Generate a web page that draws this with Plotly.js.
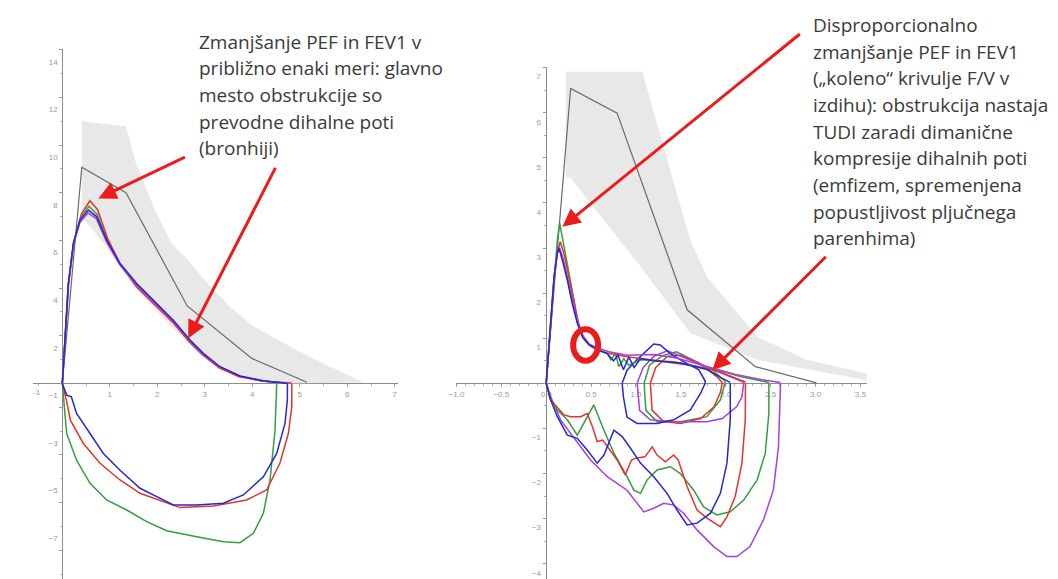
<!DOCTYPE html>
<html><head><meta charset="utf-8">
<script src="https://cdn.plot.ly/plotly-3.0.1.min.js"></script>
<style>html,body{margin:0;padding:0;background:#fff}#chart{width:1058px;height:579px}</style>
</head><body><div id="chart"></div>
<script>
// ---------- LEFT panel (volume L, flow L/s) ----------
const lBandUpV = [0.41, 1.34, 1.53, 1.95, 2.30, 2.65, 2.93, 3.53, 3.99, 4.93, 5.64, 6.34];
const lBandUpF = [11.0, 10.79, 9.36, 7.27, 5.87, 5.17, 4.47, 3.21, 2.44, 1.40, 0.70, 0.04];
const lBandLoV = [4.6, 4.1, 3.4, 2.9, 2.2, 1.5, 0.9, 0.41];
const lBandLoF = [0, 0.1, 0.6, 1.2, 2.6, 4.1, 5.8, 7.0];
const lPredV = [0, 0.41, 1.34, 2.63, 3.99, 5.15];
const lPredF = [0, 9.07, 8.0, 3.25, 1.05, 0.05];

const lBlueExpV = [0,0.057,0.127,0.232,0.373,0.548,0.724,0.934,1.215,1.566,1.987,2.337,2.688,2.969,3.32,3.741,4.232,4.724,4.74];
const lBlueExpF = [0,2.10,4.19,5.87,6.85,7.27,6.99,6.01,5.03,4.19,3.35,2.65,1.82,1.26,0.70,0.31,0.11,0.03,0];
const lPurpleExpV = [0,0.055,0.125,0.23,0.37,0.54,0.72,0.93,1.21,1.56,1.98,2.33,2.68,2.96,3.31,3.73,4.22,4.70];
const lPurpleExpF = [0,2.05,4.1,5.8,6.75,7.15,6.9,5.95,4.98,4.15,3.3,2.62,1.8,1.24,0.69,0.3,0.1,0.02];
const lRedExpV = [0,0.06,0.13,0.24,0.40,0.58,0.74,0.95,1.22,1.56,1.98,2.33,2.67,2.95,3.30,3.72,4.25,4.83];
const lRedExpF = [0,2.0,4.1,5.9,7.1,7.66,7.3,6.1,5.0,4.05,3.22,2.55,1.75,1.2,0.65,0.28,0.09,0.02];
const lGreenExpV = [0,0.055,0.125,0.235,0.38,0.56,0.73,0.94,1.22,1.57,1.99,2.34,2.69,2.97,3.32,3.74,4.2,4.51];
const lGreenExpF = [0,2.05,4.15,5.9,6.95,7.43,7.1,6.05,5.0,4.12,3.28,2.6,1.78,1.22,0.68,0.3,0.1,0.03];

const lBlueInsV = [0,0.092,0.19,0.30,0.583,0.864,1.215,1.636,1.987,2.337,2.829,3.39,3.811,4.232,4.513,4.688,4.737,4.74];
const lBlueInsF = [0,-0.49,-0.56,-1.26,-2.10,-2.94,-3.64,-4.40,-4.75,-5.10,-5.10,-5.03,-4.68,-3.92,-2.94,-1.68,-0.70,0];
const lRedInsV = [0,0.085,0.17,0.443,0.794,1.215,1.636,2.127,2.478,3.18,3.88,4.30,4.58,4.758,4.83,4.83];
const lRedInsF = [0,-0.70,-1.54,-2.52,-3.35,-4.05,-4.61,-4.96,-5.21,-5.14,-4.89,-4.47,-3.35,-2.10,-0.98,0];
const lGreenInsV = [0,0.042,0.092,0.30,0.583,0.934,1.355,1.776,2.197,2.829,3.39,3.74,4.022,4.232,4.373,4.478,4.513];
const lGreenInsF = [0,-0.98,-2.10,-3.22,-4.19,-4.89,-5.31,-5.80,-6.18,-6.43,-6.64,-6.68,-6.29,-5.45,-4.05,-1.96,0];

const lXTicks = [1,2,3,4,5,6,7];
const lYTicksPos = [2,4,6,8,10,12,14];
const lYTicksNeg = [-1,-3,-5,-7];

// ---------- RIGHT panel ----------
const rBandUpV = [0.217, 1.07, 1.38, 1.605, 1.79, 2.35, 2.9, 3.57];
const rBandUpF = [6.91, 6.91, 4.73, 3.18, 2.36, 1.03, 0.52, 0.22];
const rBandLoV = [3.57, 2.35, 1.605, 1.05, 0.272, 0.217];
const rBandLoF = [0.07, 0.52, 1.11, 2.59, 4.55, 4.58];
const rPredV = [0, 0.272, 0.79, 1.57, 2.33, 3.01];
const rPredF = [0, 6.54, 5.99, 1.63, 0.37, 0.01];

const rBlueExpV = [0,0.05,0.087,0.124,0.143,0.18,0.235,0.29,0.346,0.402,0.476,0.57,0.68,0.75,0.8,0.86,0.92,0.98,1.05,1.2,1.5,1.8,1.95,2.05];
const rBlueExpF = [0,1.26,2.36,2.88,2.99,2.73,2.29,1.77,1.33,1.03,0.85,0.74,0.66,0.5,0.62,0.3,0.58,0.35,0.55,0.5,0.45,0.3,0.12,0.02];
const rGreenExpV = [0,0.05,0.09,0.125,0.15,0.2,0.255,0.31,0.36,0.42,0.5,0.6,0.68,0.72,0.77,0.81,0.865,0.92,1.05,1.42,1.79,1.97,2.16,2.38,2.48];
const rGreenExpF = [0,1.3,2.5,3.2,3.55,3.03,2.44,1.85,1.3,0.98,0.82,0.72,0.66,0.52,0.66,0.37,0.55,0.4,0.52,0.48,0.33,0.26,0.15,0.06,0.02];
const rRedExpV = [0,0.05,0.09,0.125,0.157,0.2,0.25,0.3,0.35,0.41,0.48,0.58,0.68,0.9,1.24,1.6,1.9,2.1,2.22];
const rRedExpF = [0,1.28,2.4,2.95,3.14,2.85,2.4,1.9,1.4,1.05,0.86,0.75,0.67,0.59,0.5,0.4,0.28,0.12,0.03];
const rPurpleExpV = [0,0.05,0.088,0.124,0.145,0.19,0.24,0.3,0.35,0.41,0.48,0.58,0.7,0.9,1.2,1.45,1.8,2.1,2.4,2.61];
const rPurpleExpF = [0,1.25,2.35,2.9,3.03,2.75,2.3,1.8,1.35,1.04,0.87,0.78,0.7,0.62,0.64,0.56,0.36,0.2,0.08,0.02];

const rPurpleInsV = [0,0.05,0.16,0.31,0.494,0.68,0.90,1.087,1.198,1.309,1.42,1.53,1.68,1.865,2.013,2.124,2.27,2.42,2.53,2.587,2.606,2.61];
const rPurpleInsF = [0,-0.30,-0.81,-1.22,-1.70,-2.07,-2.37,-2.85,-2.77,-2.66,-2.70,-2.88,-3.25,-3.62,-3.84,-3.84,-3.62,-3.03,-2.37,-1.41,-0.52,0];
const rBlueInsV = [0,0.05,0.124,0.235,0.346,0.457,0.568,0.643,0.754,0.846,0.939,1.05,1.198,1.346,1.457,1.569,1.68,1.83,1.94,2.013,2.05,2.05];
const rBlueInsF = [0,-0.37,-0.74,-1.15,-1.22,-1.48,-1.77,-1.59,-1.04,-1.18,-1.44,-1.77,-2.07,-2.44,-2.81,-3.14,-3.10,-2.88,-2.44,-1.77,-0.81,0];
const rRedInsV = [0,0.05,0.198,0.272,0.383,0.457,0.514,0.568,0.63,0.79,0.88,0.95,1.0,1.1,1.18,1.235,1.327,1.42,1.47,1.569,1.68,1.79,1.94,2.013,2.105,2.18,2.217,2.22];
const rRedInsF = [0,-0.37,-0.70,-0.74,-0.74,-0.67,-0.96,-1.29,-1.26,-1.70,-2.03,-1.70,-1.66,-1.63,-1.41,-1.59,-1.74,-1.59,-1.70,-2.29,-2.81,-2.99,-3.18,-2.96,-2.51,-1.77,-0.81,0];
const rGreenInsV = [0,0.05,0.124,0.235,0.346,0.42,0.53,0.643,0.754,0.90,0.976,1.05,1.124,1.235,1.383,1.494,1.643,1.754,1.90,2.05,2.20,2.35,2.44,2.48,2.48];
const rGreenInsF = [0,-0.37,-0.59,-0.81,-1.15,-0.89,-0.48,-1.04,-1.55,-2.07,-2.37,-2.44,-2.14,-1.92,-1.85,-2.0,-2.37,-2.74,-2.92,-2.85,-2.59,-2.14,-1.55,-0.67,0];

// tidal loops: expiration then inspiration back
const rBlueTidV = [0.846,0.9,1.01,1.124,1.198,1.27,1.383,1.53,1.7,1.77,1.77,1.72,1.606,1.42,1.235,1.013,0.9,0.86,0.846];
const rBlueTidF = [0,0.29,0.52,0.74,0.87,0.85,0.66,0.48,0.3,0.05,0,-0.22,-0.59,-0.81,-0.89,-0.89,-0.75,-0.3,0];
const rPurpleTidV = [1.013,1.08,1.2,1.35,1.5,1.8,2.0,2.2,2.2,2.18,2.12,1.96,1.79,1.42,1.16,1.04,1.013];
const rPurpleTidF = [0,0.35,0.6,0.72,0.6,0.35,0.18,0.02,0,-0.3,-0.52,-0.78,-0.85,-0.85,-0.81,-0.6,0];
const rGreenTidV = [1.09,1.15,1.3,1.45,1.6,1.85,1.99,1.99,1.94,1.79,1.494,1.235,1.11,1.09];
const rGreenTidF = [0,0.4,0.62,0.7,0.55,0.3,0.05,0,-0.37,-0.74,-0.85,-0.85,-0.6,0];
const rRedTidV = [1.16,1.22,1.35,1.5,1.7,1.9,1.96,1.96,1.94,1.87,1.72,1.494,1.309,1.18,1.16];
const rRedTidF = [0,0.35,0.6,0.62,0.45,0.15,0.02,0,-0.2,-0.52,-0.78,-0.89,-0.85,-0.6,0];

const rXTicks = [-1,-0.5,0,0.5,1,1.5,2,2.5,3,3.5];
const rYTicks = [-4,-3,-2,-1,1,2,3,4,5,6,7];

const leftText = ["Zmanjšanje PEF in FEV1 v","približno enaki meri: glavno","mesto obstrukcije so","prevodne dihalne poti","(bronhiji)"];
const rightText = ["Disproporcionalno","zmanjšanje PEF in FEV1","(„koleno“ krivulje F/V v","izdihu): obstrukcija nastaja","TUDI zaradi dimanične","kompresije dihalnih poti","(emfizem, spremenjena","popustljivost pljučnega","parenhima)"];

// ---------- styling ----------
const RED='rgb(228,52,44)', GREEN='rgb(52,158,62)', BLUE='rgb(38,40,205)', PURPLE='rgb(168,62,222)';
const GRAYLINE='rgb(105,105,105)', BAND='rgb(232,232,232)', ARROW='rgb(235,28,28)';
const W=1058, H=579;

function line(x,y,color,xa,ya,w){return {x:x,y:y,mode:'lines',line:{color:color,width:w||1.5},xaxis:xa,yaxis:ya,hoverinfo:'skip',showlegend:false};}
function band(upV,upF,loV,loF,xa,ya){return {x:upV.concat(loV),y:upF.concat(loF),mode:'lines',fill:'toself',fillcolor:BAND,line:{width:0,color:BAND},xaxis:xa,yaxis:ya,hoverinfo:'skip',showlegend:false};}

const data = [
  band(lBandUpV,lBandUpF,lBandLoV,lBandLoF,'x','y'),
  line(lPredV,lPredF,GRAYLINE,'x','y',1.2),
  line(lGreenExpV,lGreenExpF,GREEN,'x','y'),
  line(lRedExpV,lRedExpF,RED,'x','y'),
  line(lPurpleExpV,lPurpleExpF,PURPLE,'x','y'),
  line(lBlueExpV,lBlueExpF,BLUE,'x','y'),
  line(lGreenInsV,lGreenInsF,GREEN,'x','y'),
  line(lRedInsV,lRedInsF,RED,'x','y'),
  line(lBlueInsV,lBlueInsF,BLUE,'x','y'),
  {x:[null],y:[null],mode:'lines',xaxis:'x',yaxis:'y3',hoverinfo:'skip',showlegend:false},
  band(rBandUpV,rBandUpF,rBandLoV,rBandLoF,'x2','y2'),
  line(rPredV,rPredF,GRAYLINE,'x2','y2',1.2),
  line(rGreenTidV,rGreenTidF,GREEN,'x2','y2'),
  line(rRedTidV,rRedTidF,RED,'x2','y2'),
  line(rPurpleTidV,rPurpleTidF,PURPLE,'x2','y2'),
  line(rBlueTidV,rBlueTidF,BLUE,'x2','y2'),
  line(rGreenExpV,rGreenExpF,GREEN,'x2','y2'),
  line(rRedExpV,rRedExpF,RED,'x2','y2'),
  line(rPurpleExpV,rPurpleExpF,PURPLE,'x2','y2'),
  line(rBlueExpV,rBlueExpF,BLUE,'x2','y2'),
  line(rPurpleInsV,rPurpleInsF,PURPLE,'x2','y2'),
  line(rGreenInsV,rGreenInsF,GREEN,'x2','y2'),
  line(rRedInsV,rRedInsF,RED,'x2','y2'),
  line(rBlueInsV,rBlueInsF,BLUE,'x2','y2')
];

const tickFont={size:8,color:'#9a9a9a',family:'Liberation Sans, Arial, sans-serif'};
const axBase={showgrid:false,zeroline:false,showline:true,linecolor:'#8c8c8c',linewidth:1,ticks:'outside',ticklen:3,tickcolor:'#9a9a9a',tickfont:tickFont,anchor:'free',fixedrange:true,layer:'below traces'};

const layout = {
  width:W,height:H,margin:{l:0,r:0,t:0,b:0},paper_bgcolor:'#fff',plot_bgcolor:'rgba(0,0,0,0)',showlegend:false,
  xaxis:Object.assign({},axBase,{domain:[0.0312,0.3762],range:[-0.617,7.067],position:0.338,tickvals:lXTicks,
    minor:{dtick:0.5,ticks:'outside',ticklen:2,tickcolor:'#aaa'}}),
  yaxis:Object.assign({},axBase,{domain:[0,0.915],range:[-8.205,14.02],position:62.3/W,tickvals:lYTicksPos,ticklabelshift:12,
    minor:{dtick:1,ticks:'outside',ticklen:2,tickcolor:'#aaa'}}),
  yaxis3:Object.assign({},axBase,{overlaying:'y',side:'left',range:[-8.205,14.02],position:62.3/W,tickvals:lYTicksNeg,ticklabelshift:-12,showline:false}),
  xaxis2:Object.assign({},axBase,{domain:[0.4310,0.8192],range:[-1.005,3.57],position:0.338,tickvals:rXTicks,tickformat:'.1f',
    minor:{dtick:0.1,ticks:'outside',ticklen:2,tickcolor:'#aaa'}}),
  yaxis2:Object.assign({},axBase,{domain:[0,0.8848],range:[-4.339,7.02],position:545.5/W,tickvals:rYTicks,ticklabelshift:9,
    minor:{dtick:0.5,ticks:'outside',ticklen:2,tickcolor:'#aaa'}}),
  annotations:[],
  shapes:[{type:'circle',xref:'x2',yref:'y2',x0:0.30,x1:0.578,y0:0.5,y1:1.2,line:{color:ARROW,width:6},layer:'above'}]
};

const textFont={family:'Open Sans, Lato, sans-serif',size:19,color:'#3a3a3a'};
leftText.forEach((t,i)=>layout.annotations.push({xref:'paper',yref:'paper',x:197/W,y:1-(41.7+26.65*i)/H,xanchor:'left',yanchor:'middle',text:t,showarrow:false,font:textFont}));
rightText.forEach((t,i)=>layout.annotations.push({xref:'paper',yref:'paper',x:810.7/W,y:1-(25+26.65*i)/H,xanchor:'left',yanchor:'middle',text:t,showarrow:false,font:textFont}));

function arrow(xa,ya,x,y,ax,ay){return {xref:xa,yref:ya,x:x,y:y,ax:ax,ay:ay,axref:'pixel',ayref:'pixel',text:'',showarrow:true,arrowhead:2,arrowsize:1.2,arrowwidth:3,arrowcolor:ARROW,standoff:0};}
layout.annotations.push(arrow('x','y',0.76,7.76,88,-42));
layout.annotations.push(arrow('x','y',2.65,1.89,88,-172));
layout.annotations.push(arrow('x2','y2',0.18,3.47,239,-194));
layout.annotations.push(arrow('x2','y2',1.85,0.29,115,-115));
layout.annotations.push({xref:'x',yref:'y',x:-0.54,y:0,yshift:-9,text:'-1',showarrow:false,font:tickFont});

Plotly.newPlot('chart',data,layout,{staticPlot:true,displayModeBar:false});
</script></body></html>
